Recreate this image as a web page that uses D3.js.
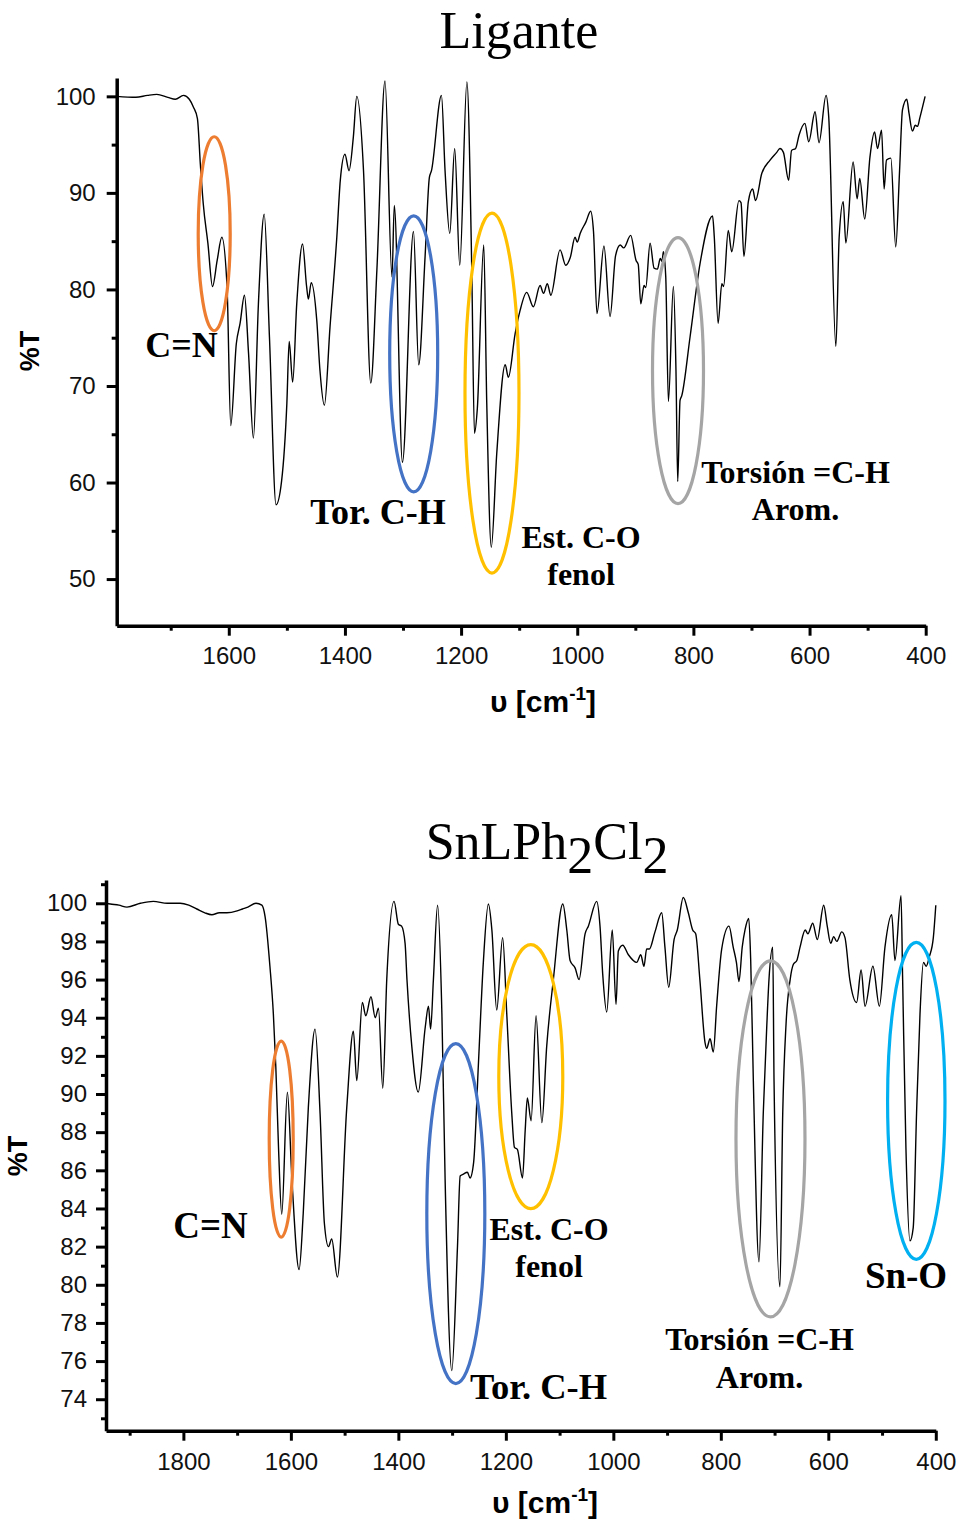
<!DOCTYPE html>
<html>
<head>
<meta charset="utf-8">
<script src="https://cdn.jsdelivr.net/npm/d3@7"></script>
<style>
  body { margin: 0; background: #fff; }
  svg { display: block; }
</style>
</head>
<body>
<svg id="chart" width="961" height="1522"></svg>
<script>
// ---------- DATA ----------
// Ligante spectrum (wavenumber cm-1, %T)
const ligWN = [1793,1760,1740,1724,1705,1692,1678,1668,1661,1654,1649,1644,1636,1628,1620,1612,1603,1596.6,1587,1580.5,1573,1566,1557.6,1549,1539,1530,1518.6,1509,1500,1496,1490,1483,1473,1466,1463,1458,1448.5,1443,1435.4,1425.6,1414,1408,1400,1393,1385.5,1379.6,1368,1355.5,1345,1331,1319,1315,1301,1282,1273,1262,1254.6,1251,1233.8,1227.6,1219.5,1211,1202.3,1190,1181.6,1177,1172,1161,1155.8,1148,1138.6,1124,1118.6,1107,1098.5,1087,1075.6,1064,1058,1051.5,1045.6,1029.6,1019.8,1012,1003.8,1000,995,985,977,972,966,954,943.5,934,926,920,908,898.7,895,890.6,885,882,874.6,867.7,862,857,854,851.7,847.6,843,834.5,830,827,823,820,805.7,788.5,767,764,757.5,751,748,740,734,721.6,718,713,705.4,698,693,682.3,668,656.5,651,645,636,631,624,618,608,601.4,590.5,583.7,571.6,567,554.7,549,542,537.5,525,518,513.6,505,496,488,483,476,471.6,467.5,460,451.6,445,440,432.6,428.6,422.8,418,414,410,401];
const ligT  = [100.0,99.9,100.1,100.2,99.9,99.7,100.1,99.7,98.9,97.7,93.0,88.9,84.8,80.3,83.0,85.4,80.3,65.9,74.4,76.5,79.4,73.4,64.6,78.5,87.8,75.1,57.7,60.2,68.2,74.6,70.4,78.5,84.7,80.3,79.0,80.7,76.8,71.6,68.0,76.2,85.4,91.3,94.0,92.3,95.8,100.0,92.3,70.3,82.0,101.6,81.3,88.7,62.1,86.0,72.2,83.4,91.6,92.3,100.1,92.3,85.8,94.6,82.5,101.5,82.0,65.1,67.7,84.6,68.2,53.3,63.0,72.2,70.9,75.4,77.8,79.7,78.2,80.4,79.6,80.6,79.4,84.1,82.5,83.3,85.4,84.9,85.8,87.0,88.1,86.0,77.5,84.5,77.2,83.5,84.6,84.3,85.6,83.0,82.6,78.5,80.4,80.2,84.8,82.2,82.1,83.2,82.9,83.9,81.3,68.4,80.3,71.6,60.1,68.5,69.0,75.1,82.7,87.6,85.4,76.5,80.6,80.3,86.1,83.9,89.2,89.0,83.4,89.1,90.4,89.2,92.0,93.4,94.2,94.6,94.2,91.3,94.4,94.6,96.0,97.2,95.3,98.4,95.2,100.1,97.9,74.1,85.4,89.1,84.8,93.2,89.4,91.5,87.3,93.7,96.3,94.6,96.5,90.4,93.4,93.6,84.4,92.3,98.6,99.7,98.2,96.4,97.0,96.9,97.8,100.0];

// SnLPh2Cl2 spectrum (wavenumber cm-1, %T)
const snWN = [1944,1936,1920,1905,1880,1856,1830,1806,1790,1775,1760,1747,1733,1719,1700,1690,1680,1665,1654,1648,1639,1632.6,1628,1623,1617,1606.5,1598,1584.7,1577,1567.5,1555,1545.7,1537.6,1530,1524,1513.5,1496,1483.7,1477.4,1467,1460.7,1451,1443,1437,1429,1421.6,1408,1400,1394,1387.5,1384,1375,1363,1350,1344,1340,1334.8,1327,1319,1313,1300.6,1290,1285,1279,1271.6,1266.6,1260,1251,1241.9,1232.5,1226,1217,1206,1198.3,1189,1184,1178.6,1169,1164,1160,1153,1143.8,1133,1124,1111.6,1094,1086.6,1080.5,1071,1063.8,1052.6,1046.5,1031,1024.8,1019.8,1012.3,1002,995,990.7,982.5,972,956.5,949,943,938,933,922.5,910,904,897,887,881,869.8,860.5,852.4,846.8,839,829.4,826.3,820,814,807.8,798.4,784.8,777,771,766.2,760.2,755,748,744.4,739.5,729,721,714.6,710.4,703.4,701,690,684.8,678.6,671,665,658.6,652.6,643,638,629,620.5,608.6,602,595.6,590,584.4,575,569,560,547.3,539,531.7,517,505,494.6,482,476,464.7,461.7,455.6,448,442,435.8,429.4,423,418,412,404.6,400];
const snT  = [100.0,99.96,99.9,99.8,100.0,100.1,100.0,100.0,99.9,99.7,99.5,99.4,99.5,99.5,99.6,99.7,99.8,100.0,99.9,99.3,96.7,94.2,91.4,87.2,83.7,90.1,85.5,80.8,83.75,89.3,93.4,89.0,83.2,82.0,82.4,80.4,89.3,93.3,90.7,94.8,94.1,95.1,94.0,94.5,90.3,96.0,100.1,98.9,98.8,97.9,96.0,92.5,90.1,93.5,94.6,93.4,96.0,99.9,94.2,85.5,75.5,82.0,85.7,85.8,85.9,85.6,86.4,91.6,96.9,99.96,98.6,94.4,98.2,94.2,89.0,87.2,87.1,85.6,88.1,89.8,88.6,94.1,88.5,92.5,96.0,99.96,98.6,97.0,96.6,96.0,98.4,98.8,100.1,98.8,96.3,94.3,98.6,94.7,97.5,97.8,97.3,96.9,97.3,96.7,97.6,97.6,98.5,99.5,97.7,95.6,98.1,98.6,100.3,99.5,98.6,98.4,96.0,92.7,92.4,92.9,92.2,94.6,97.6,98.8,97.7,96.9,95.9,97.7,98.6,99.2,97.0,90.7,81.2,89.0,93.5,96.0,97.7,90.7,79.9,89.0,93.7,96.0,96.8,97.0,97.7,98.6,98.4,98.95,98.1,99.9,98.8,97.9,98.25,98.0,98.5,98.2,96.0,94.8,96.5,94.6,96.7,94.6,97.7,99.4,97.0,100.4,96.0,87.2,82.3,83.0,89.0,94.2,96.9,96.7,97.2,98.2,99.9];

// Tick values
const topXMajor = [1600,1400,1200,1000,800,600,400];
const topXMinor = [1700,1500,1300,1100,900,700,500];
const topYMajor = [50,60,70,80,90,100];
const topYMinor = [55,65,75,85,95];
const botXMajor = [1800,1600,1400,1200,1000,800,600,400];
const botXMinor = [1900,1700,1500,1300,1100,900,700,500];
const botYMajor = [74,76,78,80,82,84,86,88,90,92,94,96,98,100];
const botYMinor = [73,75,77,79,81,83,85,87,89,91,93,95,97,99,101];

// Annotations: ellipse centres in data coords (wavenumber, %T)
const topEllipseWN = [1625.1,1281.6,1146.8,826.5];
const topEllipseT  = [85.77,73.33,69.27,71.6];
const botEllipseWN = [1618,1293.1,1153.6,707.6,436.3];
const botEllipseT  = [87.64,83.73,90.91,87.65,89.64];

// Annotation labels: text and anchor in data coords (wavenumber, %T)
const topLabels   = ["C=N","Tor. C-H","Est. C-O","fenol","Torsión =C-H","Arom."];
const topLabelWN  = [1681.4,1343.1,993.5,993.5,624.2,624.2];
const topLabelT   = [73.0,55.7,53.2,49.4,59.95,56.1];
const botLabels   = ["C=N","Tor. C-H","Est. C-O","fenol","Torsión =C-H","Arom.","Sn-O"];
const botLabelWN  = [1749.6,1139.2,1119.7,1119.7,728,728,455.4];
const botLabelT   = [82.45,74.0,82.35,80.41,76.58,74.59,79.83];

// ---------- DRAWING ----------
const svg = d3.select("#chart");
const SANS = "'Liberation Sans', Arial, sans-serif";
const SERIF = "'Liberation Serif', 'Times New Roman', serif";

function drawPanel(p) {
  const x = d3.scaleLinear().domain(p.xDomain).range(p.xRange);
  const y = d3.scaleLinear().domain(p.yDomain).range(p.yRange);
  const g = svg.append("g");

  // minor ticks
  const xMin = g.append("g").attr("transform", `translate(0,${p.yRange[0]})`)
    .call(d3.axisBottom(x).tickValues(p.xMinor).tickSize(5).tickSizeOuter(0).tickFormat(""));
  xMin.select(".domain").remove();
  const yMin = g.append("g").attr("transform", `translate(${p.xRange[0]},0)`)
    .call(d3.axisLeft(y).tickValues(p.yMinor).tickSize(5).tickSizeOuter(0).tickFormat(""));
  yMin.select(".domain").remove();

  // major axes
  g.append("g").attr("transform", `translate(0,${p.yRange[0]})`)
    .call(d3.axisBottom(x).tickValues(p.xMajor).tickSize(10).tickSizeOuter(0).tickPadding(p.xPad).tickFormat(d3.format("d")));
  g.append("g").attr("transform", `translate(${p.xRange[0]},0)`)
    .call(d3.axisLeft(y).tickValues(p.yMajor).tickSize(10).tickSizeOuter(0).tickPadding(p.yPad).tickFormat(d3.format("d")));

  g.selectAll(".tick line").attr("stroke", "#000").attr("stroke-width", 3);
  g.selectAll(".domain").attr("stroke", "#000").attr("stroke-width", 3.5);
  g.selectAll(".tick text").attr("font-family", SANS).attr("font-size", 24).attr("fill", "#111");

  // spectrum
  const pts = p.wn.map((w, i) => [w, p.t[i]]);
  const line = d3.line().x(d => x(d[0])).y(d => y(d[1])).curve(d3.curveMonotoneX);
  g.append("path").datum(pts).attr("d", line)
    .attr("fill", "none").attr("stroke", "#000").attr("stroke-width", 1.4).attr("stroke-linejoin", "round");

  // ellipses
  p.ellWN.forEach((w, i) => {
    g.append("ellipse")
      .attr("cx", x(w)).attr("cy", y(p.ellT[i]))
      .attr("rx", p.ellRx[i]).attr("ry", p.ellRy[i])
      .attr("fill", "none").attr("stroke", p.ellColor[i]).attr("stroke-width", 3.2);
  });

  // labels
  p.labels.forEach((txt, i) => {
    g.append("text")
      .attr("x", x(p.labWN[i])).attr("y", y(p.labT[i]))
      .attr("text-anchor", "middle")
      .attr("font-family", SERIF).attr("font-weight", "bold")
      .attr("font-size", p.labSize[i]).attr("fill", "#000")
      .text(txt);
  });

  // axis titles
  g.append("text")
    .attr("transform", `translate(${p.yLabelPos[0]},${p.yLabelPos[1]}) rotate(-90)`)
    .attr("text-anchor", "middle").attr("font-family", SANS).attr("font-weight", "bold")
    .attr("font-size", 27).attr("fill", "#000").text("%T");

  const xl = g.append("text")
    .attr("x", p.xLabelPos[0]).attr("y", p.xLabelPos[1])
    .attr("text-anchor", "middle").attr("font-family", SANS).attr("font-weight", "bold")
    .attr("font-size", 30).attr("fill", "#000");
  xl.append("tspan").text("υ [cm");
  xl.append("tspan").attr("font-size", 19).attr("dy", -12).text("-1");
  xl.append("tspan").attr("dy", 12).text("]");

  return { x, y };
}

const colors = { orange: "#ED7D31", blue: "#4472C4", yellow: "#FFC000", gray: "#A5A5A5", cyan: "#00B0F0" };

// Top panel: Ligante
drawPanel({
  xDomain: [1793, 400], xRange: [116.7, 925.7],
  yDomain: [45.17, 101.9], yRange: [625.7, 78],
  xMajor: topXMajor, xMinor: topXMinor, yMajor: topYMajor, yMinor: topYMinor,
  xPad: 11, yPad: 11,
  wn: ligWN, t: ligT,
  ellWN: topEllipseWN, ellT: topEllipseT,
  ellRx: [16, 24, 27, 25.5], ellRy: [97, 138, 180, 133],
  ellColor: [colors.orange, colors.blue, colors.yellow, colors.gray],
  labels: topLabels, labWN: topLabelWN, labT: topLabelT,
  labSize: [36, 36, 32, 32, 32, 32],
  yLabelPos: [39, 351], xLabelPos: [543, 712]
});

// Bottom panel: SnLPh2Cl2
drawPanel({
  xDomain: [1944, 400], xRange: [106, 935.8],
  yDomain: [72.35, 101.22], yRange: [1430.7, 880],
  xMajor: botXMajor, xMinor: botXMinor, yMajor: botYMajor, yMinor: botYMinor,
  xPad: 12, yPad: 9,
  wn: snWN, t: snT,
  ellWN: botEllipseWN, ellT: botEllipseT,
  ellRx: [12, 29, 32, 34.5, 28.7], ellRy: [98, 170, 132, 178, 158.5],
  ellColor: [colors.orange, colors.blue, colors.yellow, colors.gray, colors.cyan],
  labels: botLabels, labWN: botLabelWN, labT: botLabelT,
  labSize: [37, 36.5, 32, 32, 32, 32, 37],
  yLabelPos: [27, 1156], xLabelPos: [545, 1513]
});

// Titles
svg.append("text").attr("x", 519).attr("y", 48).attr("text-anchor", "middle")
  .attr("font-family", SERIF).attr("font-size", 52).attr("fill", "#000").text("Ligante");

const t2 = svg.append("text").attr("x", 547).attr("y", 859).attr("text-anchor", "middle")
  .attr("font-family", SERIF).attr("font-size", 52).attr("fill", "#000");
t2.append("tspan").text("SnLPh");
t2.append("tspan").attr("dy", 14).text("2");
t2.append("tspan").attr("dy", -14).text("Cl");
t2.append("tspan").attr("dy", 14).text("2");
</script>
</body>
</html>
